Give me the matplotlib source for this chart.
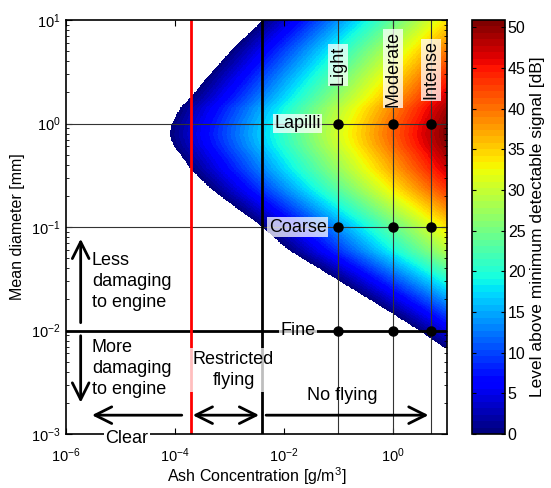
import numpy as np
import matplotlib
matplotlib.use("Agg")
import matplotlib.pyplot as plt
from matplotlib.ticker import LogLocator, NullLocator, NullFormatter

plt.rcParams['font.family'] = ['Liberation Sans', 'DejaVu Sans']
plt.rcParams['mathtext.fontset'] = 'custom'
plt.rcParams['mathtext.rm'] = 'Liberation Sans'
plt.rcParams['mathtext.it'] = 'Liberation Sans:italic'
plt.rcParams['mathtext.bf'] = 'Liberation Sans:bold'

# minimum detectable ash concentration [g/m3] vs mean diameter [mm] (edge of the coloured region)
diam_mm = [0.0068, 0.0102, 0.0148, 0.0314, 0.0603, 0.105, 0.152, 0.238, 0.371,
           0.462, 0.621, 0.776, 0.969, 1.41, 1.75, 2.74, 5.33, 10.0]
min_conc = [9.0, 2.91, 0.946, 0.0927, 0.0120, 3.63e-3, 1.36e-3, 4.39e-4, 1.88e-4,
            1.42e-4, 9.31e-5, 8.09e-5, 8.69e-5, 1.24e-4, 1.88e-4, 3.82e-4, 1.17e-3, 4.17e-3]

# aviation limits [g/m3]
restricted_limit = 2e-4
no_fly_limit = 4e-3

# ash classes
intensity_names = ['Light', 'Moderate', 'Intense']
intensity_conc = [0.1, 1.0, 5.0]
size_names = ['Lapilli', 'Coarse', 'Fine']
size_diam = [1.0, 0.1, 0.01]

cbar_ticks = list(range(0, 51, 5))

# field: dB above the minimum detectable signal
log_c = np.linspace(-6, 1, 700)
log_d = np.linspace(-3, 1, 600)
LC, LD = np.meshgrid(log_c, log_d)
edge = np.interp(LD, np.log10(diam_mm), np.log10(min_conc), left=10, right=10)
level = 10 * (LC - edge)
level = np.ma.masked_less(level, 0)

fig = plt.figure(figsize=(5.51, 4.88), dpi=100)
ax = fig.add_axes([66/551, 1 - 434/488, 381/551, 414/488])
cax = fig.add_axes([472/551, 1 - 434/488, 33/551, 414/488])

jet = plt.get_cmap('jet', 64)
mesh = ax.pcolormesh(10**LC, 10**LD, level, cmap=jet, vmin=0, vmax=level.max(),
                     shading='auto', rasterized=True, zorder=1)

ax.set_xscale('log')
ax.set_yscale('log')
ax.set_xlim(1e-6, 10)
ax.set_ylim(1e-3, 10)

# grid of classes
for c in intensity_conc:
    ax.axvline(c, color='0.2', lw=0.8, zorder=2)
for d in size_diam[:2]:
    ax.axhline(d, color='0.2', lw=0.8, zorder=2)
ax.axhline(size_diam[2], color='k', lw=2, zorder=2)
ax.axvline(restricted_limit, color='red', lw=2, zorder=3)
ax.axvline(no_fly_limit, color='k', lw=2, zorder=3)

cc, dd = np.meshgrid(intensity_conc, size_diam)
ax.plot(cc.ravel(), dd.ravel(), 'o', color='k', ms=6.5, zorder=5)

box = dict(facecolor='white', alpha=0.75, edgecolor='none', pad=1.0)
for name, d in zip(size_names, size_diam):
    ax.text(0.018, d, name, fontsize=13, ha='center', va='center', bbox=box, zorder=4)
for name, c, y in zip(intensity_names, intensity_conc, [3.68, 3.37, 3.29]):
    ax.text(c, y, name, fontsize=13, rotation=90, ha='center', va='center', bbox=box, zorder=4)

ax.text(3.0e-6, 0.0296, 'Less\ndamaging\nto engine', fontsize=13, ha='left', va='center',
        linespacing=1.3, zorder=4)
ax.text(3.0e-6, 0.00428, 'More\ndamaging\nto engine', fontsize=13, ha='left', va='center',
        linespacing=1.3, zorder=4)
ax.text(1.2e-3, 0.00414, 'Restricted\nflying', fontsize=13, ha='center', va='center',
        linespacing=1.3, bbox=dict(facecolor='white', alpha=0.75, edgecolor='none', pad=2),
        zorder=4)
ax.text(0.119, 0.00235, 'No flying', fontsize=13, ha='center', va='center', zorder=4)
ax.text(1.32e-5, 9.0e-4, 'Clear', fontsize=13, ha='center', va='center', clip_on=False,
        bbox=dict(facecolor='white', edgecolor='none', pad=1), zorder=10)

arrow = dict(arrowstyle='->,head_length=0.6,head_width=0.3', lw=2, color='k',
             mutation_scale=20, shrinkA=0, shrinkB=0)
double = dict(arrow, arrowstyle='<->,head_length=0.6,head_width=0.3')
ax.annotate('', xy=(1.86e-6, 0.0769), xytext=(1.86e-6, 0.0119), arrowprops=arrow, zorder=4)
ax.annotate('', xy=(1.86e-6, 0.00201), xytext=(1.86e-6, 0.0089), arrowprops=arrow, zorder=4)
ax.annotate('', xy=(3.0e-6, 0.00152), xytext=(1.34e-4, 0.00152), arrowprops=arrow, zorder=4)
ax.annotate('', xy=(2.13e-4, 0.00152), xytext=(3.53e-3, 0.00152), arrowprops=double, zorder=4)
ax.annotate('', xy=(4.57, 0.00152), xytext=(4.74e-3, 0.00152), arrowprops=arrow, zorder=4)

ax.set_xticks([1e-6, 1e-4, 1e-2, 1e0])
ax.xaxis.set_minor_locator(NullLocator())
ax.yaxis.set_major_locator(LogLocator(base=10, numticks=10))
ax.yaxis.set_minor_locator(LogLocator(base=10, subs=np.arange(2, 10), numticks=10))
ax.yaxis.set_minor_formatter(NullFormatter())
ax.tick_params(which='both', direction='in', top=True, right=True, labelsize=10.5)
ax.tick_params(which='major', length=4)
ax.tick_params(which='minor', length=2.5)
ax.tick_params(axis='x', which='major', pad=9)
ax.tick_params(axis='y', which='major', pad=4)
for sp in ax.spines.values():
    sp.set_linewidth(1.2)
    sp.set_zorder(6)

ax.set_xlabel('Ash Concentration [g/m$^3$]', fontsize=11.5, labelpad=0)
ax.set_ylabel('Mean diameter [mm]', fontsize=11.5, labelpad=4)

cb = fig.colorbar(mesh, cax=cax, ticks=cbar_ticks)
cb.outline.set_linewidth(1.2)
cax.yaxis.set_ticks_position('both')
cax.tick_params(direction='in', length=3, labelsize=11.5, right=True, left=True,
                labelleft=False, labelright=True, pad=2)
cax.set_ylabel('Level above minimum detectable signal [dB]', fontsize=12.5, labelpad=3)

fig.savefig('out.png', dpi=100)
